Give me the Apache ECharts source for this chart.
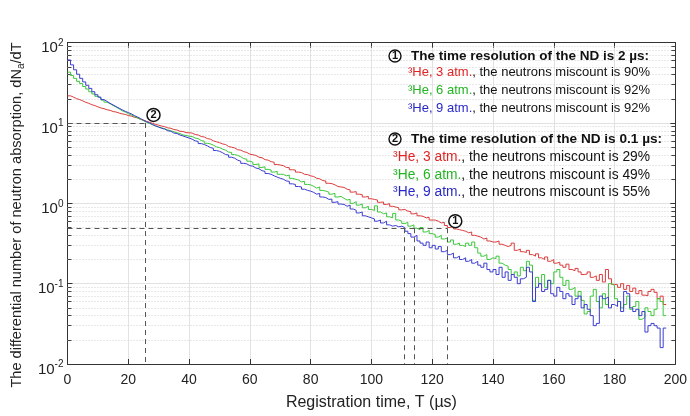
<!DOCTYPE html>
<html><head><meta charset="utf-8">
<script src="https://cdn.jsdelivr.net/npm/echarts@6/dist/echarts.min.js"></script>
<style>html,body{margin:0;padding:0;background:#fff}#c{width:690px;height:416px}</style>
</head><body><div id="c"></div>
<script>
// ---- data (histogram bins, 1 µs wide, starting at 0 µs) ----
const binWidth = 1;
const red3atm = [
21.8,21.0,20.1,19.6,18.9,18.1,17.6,16.9,16.5,15.9,
15.4,15.1,14.6,14.4,13.9,13.7,13.3,13.0,12.8,12.4,
12.2,11.8,11.6,11.1,10.9,10.5,10.2,9.9,9.6,9.4,
9.17,9.0,8.7,8.6,8.3,8.2,7.9,7.85,7.6,7.55,
7.5,7.2,7.1,6.8,6.7,6.4,6.3,6.0,5.85,5.7,
5.5,5.4,5.1,5.0,4.9,4.65,4.6,4.4,4.3,4.1,
4.03,3.95,3.75,3.7,3.5,3.45,3.3,3.25,3.05,3.0,
2.95,2.8,2.78,2.62,2.6,2.45,2.42,2.3,2.28,2.2,
2.16,2.05,2.02,1.92,1.9,1.78,1.76,1.7,1.62,1.6,
1.58,1.5,1.47,1.38,1.4,1.3,1.28,1.2,1.22,1.14,
1.12,1.1,1.03,1.04,0.97,0.99,0.92,0.9,0.88,0.83,
0.84,0.8,0.79,0.74,0.76,0.7,0.69,0.66,0.67,0.62,
0.62,0.6,0.57,0.58,0.53,0.5,0.52,0.48,0.47,0.46,
0.45,0.43,0.44,0.4,0.39,0.38,0.36,0.37,0.34,0.33,
0.33,0.34,0.31,0.3,0.29,0.3,0.32,0.26,0.27,0.25,
0.245,0.26,0.23,0.22,0.235,0.21,0.2,0.215,0.19,0.2,
0.18,0.185,0.17,0.16,0.175,0.15,0.145,0.155,0.14,0.13,
0.132,0.14,0.12,0.125,0.11,0.13,0.105,0.15,0.115,0.098,
0.097,0.09,0.1,0.085,0.095,0.08,0.088,0.075,0.082,0.072,
0.071,0.08,0.085,0.078,0.065,0.07,0.055];
const green6atm = [
43,39,36,33,31,28.5,26.5,24.5,23,21.5,
20.5,19.3,18.2,17.4,16.5,15.8,15.0,14.2,13.7,13.1,
12.6,12.1,11.6,11.2,10.7,10.2,9.9,9.5,9.2,8.9,
8.7,8.5,8.2,8.0,7.8,7.55,7.4,7.1,7.0,6.85,
6.8,6.5,6.4,6.05,5.95,5.6,5.5,5.3,5.05,4.95,
4.73,4.6,4.35,4.3,4.05,3.95,3.8,3.6,3.55,3.35,
3.25,3.05,3.1,2.8,2.85,2.65,2.6,2.45,2.5,2.3,
2.3,2.2,2.25,2.05,2.0,1.95,1.85,1.88,1.72,1.7,
1.63,1.55,1.6,1.45,1.42,1.38,1.3,1.33,1.2,1.22,
1.155,1.1,1.12,1.0,1.05,0.95,0.98,0.88,0.92,0.84,
0.818,0.93,0.78,0.74,0.76,0.68,0.66,0.75,0.62,0.6,
0.56,0.58,0.52,0.54,0.49,0.47,0.5,0.44,0.46,0.42,
0.41,0.38,0.4,0.36,0.37,0.33,0.35,0.31,0.32,0.3,
0.29,0.32,0.3,0.33,0.28,0.24,0.22,0.23,0.2,0.21,
0.205,0.22,0.18,0.17,0.165,0.15,0.13,0.14,0.125,0.16,
0.145,0.19,0.17,0.062,0.12,0.1,0.13,0.09,0.11,0.1,
0.14,0.15,0.12,0.095,0.11,0.085,0.09,0.07,0.08,0.062,
0.042,0.045,0.07,0.085,0.06,0.05,0.075,0.055,0.1,0.095,
0.065,0.06,0.05,0.055,0.07,0.048,0.052,0.06,0.036,0.038,
0.05,0.045,0.04,0.048,0.065,0.06,0.04];
const blue9atm = [
61,53,46,40.5,36,32.5,29.5,27,24.5,22.5,
21,19.6,18.6,17.6,16.8,16.0,15.3,14.6,14.0,13.5,
13.0,12.4,11.9,11.4,10.8,10.4,10.0,9.6,9.2,8.9,
8.6,8.4,8.0,7.9,7.5,7.4,7.1,6.9,6.7,6.5,
6.3,6.0,5.9,5.55,5.4,5.2,4.95,4.85,4.55,4.45,
4.28,4.05,4.0,3.75,3.65,3.45,3.35,3.15,3.1,2.95,
2.9,2.75,2.7,2.55,2.5,2.35,2.3,2.2,2.12,2.05,
2.0,1.9,1.88,1.75,1.72,1.62,1.6,1.5,1.45,1.42,
1.37,1.3,1.33,1.2,1.18,1.12,1.13,1.03,1.05,0.98,
0.97,0.92,0.95,0.85,0.82,0.76,0.78,0.7,0.68,0.66,
0.64,0.6,0.62,0.57,0.6,0.54,0.52,0.53,0.51,0.52,
0.5,0.45,0.42,0.38,0.4,0.34,0.32,0.3,0.33,0.28,
0.3,0.27,0.29,0.25,0.26,0.23,0.24,0.21,0.22,0.2,
0.21,0.19,0.2,0.18,0.19,0.17,0.16,0.18,0.15,0.14,
0.15,0.13,0.16,0.12,0.14,0.11,0.13,0.12,0.1,0.115,
0.12,0.16,0.14,0.06,0.09,0.1,0.08,0.085,0.11,0.075,
0.07,0.09,0.08,0.065,0.075,0.07,0.055,0.065,0.07,0.05,
0.055,0.048,0.04,0.03,0.032,0.07,0.065,0.068,0.05,0.055,
0.052,0.06,0.045,0.08,0.075,0.05,0.045,0.048,0.04,0.045,
0.025,0.03,0.032,0.03,0.028,0.016,0.028];

const seriesNames = ['3He, 3 atm.', '3He, 6 atm.', '3He, 9 atm.'];
const seriesValues = [red3atm, green6atm, blue9atm];
const lineColors = ['#dc3c3c', '#3cc83c', '#3c3cd2'];
const textColors = ['#e02424', '#22b422', '#2828c8'];

const xRange = [0, 200];
const xInterval = 20;
const yRange = [0.01, 100];

// reference (dashed) lines: [x1, y1, x2, y2]
const dashedLines = [
  [0, 10, 25.5, 10], [25.5, 10, 25.5, 0.01],
  [0, 0.49, 125, 0.49], [110.9, 0.49, 110.9, 0.01],
  [114, 0.49, 114, 0.01], [125, 0.49, 125, 0.01]
];
// circled markers: [x, y, label]
const circleMarks = [[28.3, 12.6, '2'], [127.6, 0.6, '1']];

// legend text
const legendBlocks = [
  { num: '1', title: 'The time resolution of the ND is 2 µs:', miscount: ['90%', '92%', '92%'] },
  { num: '2', title: 'The time resolution of the ND is 0.1 µs:', miscount: ['29%', '49%', '55%'] }
];

// ---- build ----
const FONT = '"Liberation Sans", Arial, Helvetica, sans-serif';
function toSteps(vals) {
  const pts = vals.map((v, i) => [i * binWidth, v]);
  pts.push([vals.length * binWidth, vals[vals.length - 1]]);
  return pts;
}

const minorLines = [];
const minorTicks = [];
for (let e = -2; e < 2; e++) {
  for (let m = 2; m <= 9; m++) {
    const v = m * Math.pow(10, e);
    minorLines.push([{ coord: [xRange[0], v] }, { coord: [xRange[1], v] }]);
    minorTicks.push([{ coord: [0, v] }, { coord: [1.3, v] }]);
    minorTicks.push([{ coord: [198.7, v] }, { coord: [200, v] }]);
  }
}

const series = [];
series.push({
  type: 'line', data: [], silent: true, z: 1,
  markLine: {
    silent: true, z: 1, symbol: ['none', 'none'], label: { show: false }, animation: false,
    lineStyle: { color: '#d0d0d0', type: [1, 2], width: 1 },
    emphasis: { disabled: true },
    data: minorLines.concat(minorTicks.map(t => [Object.assign({ lineStyle: { color: '#444', type: 'solid', width: 1 } }, t[0]), t[1]]))
  }
});
seriesValues.forEach((vals, k) => {
  series.push({
    name: seriesNames[k], type: 'line', step: 'end', data: toSteps(vals),
    showSymbol: false, symbol: 'none', silent: true, z: 2 + k,
    lineStyle: { color: lineColors[k], width: 1 }, itemStyle: { color: lineColors[k] }
  });
});
series.push({
  type: 'line', data: [], silent: true, z: 6,
  markLine: {
    silent: true, z: 6, symbol: ['none', 'none'], label: { show: false }, animation: false,
    lineStyle: { color: '#555', type: [5, 4], width: 1 },
    emphasis: { disabled: true },
    data: dashedLines.map(d => [{ coord: [d[0], d[1]] }, { coord: [d[2], d[3]] }])
  },
  markPoint: {
    silent: true, z: 7, animation: false, symbol: 'circle', symbolSize: 13,
    itemStyle: { color: '#fff', borderColor: '#111', borderWidth: 1.5 },
    label: { show: true, position: 'inside', color: '#111', fontWeight: 'bold', fontSize: 11, fontFamily: FONT, formatter: p => p.data.name },
    data: circleMarks.map(c => ({ coord: [c[0], c[1]], name: c[2] }))
  }
});

const axisLineStyle = { color: '#333', width: 1 };
const graphics = [];
const headerY = [56, 139];
const rowY = [[72.5, 90, 108], [157, 175, 192.5]];
const rowSize = [13, 13.8];
const headSize = [13.5, 13.6];
legendBlocks.forEach((b, bi) => {
  graphics.push({
    type: 'text', x: 389, y: headerY[bi], silent: true, z: 100,
    style: {
      text: '{c|' + b.num + '}{sp| }{t|' + b.title + '}',
      textAlign: 'left', textVerticalAlign: 'middle',
      rich: {
        c: { width: 12, height: 12, lineHeight: 12, borderRadius: 7, borderWidth: 1.4, borderColor: '#111', align: 'center', fontSize: 11, fontWeight: 'bold', fontFamily: FONT, fill: '#111' },
        sp: { width: 10, fontSize: 13, fontFamily: FONT },
        t: { fontSize: headSize[bi], fontWeight: 'bold', fontFamily: FONT, fill: '#111' }
      }
    }
  });
  b.miscount.forEach((pct, k) => {
    graphics.push({
      type: 'text', x: 650, y: rowY[bi][k], silent: true, z: 100,
      style: {
        text: '{a|³He, ' + (3 * (k + 1)) + ' atm.}{b|, the neutrons miscount is ' + pct + '}',
        textAlign: 'right', textVerticalAlign: 'middle',
        rich: {
          a: { fontSize: rowSize[bi], fontFamily: FONT, fill: textColors[k] },
          b: { fontSize: rowSize[bi], fontFamily: FONT, fill: '#111' }
        }
      }
    });
  });
});
graphics.push({
  type: 'text', x: 17, y: 215, rotation: Math.PI / 2, silent: true,
  style: {
    text: '{m|The differential number of neutron absorption, dN}{s|a}{m|/dT}',
    textAlign: 'center', textVerticalAlign: 'middle',
    rich: {
      m: { fontSize: 14.6, fontFamily: FONT, fill: '#222', lineHeight: 18 },
      s: { fontSize: 10, fontFamily: FONT, fill: '#222', lineHeight: 10, verticalAlign: 'bottom' }
    }
  }
});

const chart = echarts.init(document.getElementById('c'), null, { renderer: 'canvas' });
chart.setOption({
  animation: false,
  backgroundColor: '#fff',
  grid: { left: 67.5, right: 14, top: 42.7, bottom: 52, containLabel: false },
  xAxis: [{
    type: 'value', min: xRange[0], max: xRange[1], interval: xInterval, position: 'bottom',
    axisLine: { show: true, onZero: false, lineStyle: axisLineStyle },
    axisTick: { show: true, inside: true, length: 5, lineStyle: axisLineStyle },
    axisLabel: { fontSize: 14, color: '#222', margin: 9, fontFamily: FONT },
    splitLine: { show: true, lineStyle: { color: '#e2e2e2', width: 1 } },
    name: 'Registration time, T (µs)', nameLocation: 'middle', nameGap: 31,
    nameTextStyle: { fontSize: 16, color: '#222', fontFamily: FONT }
  }, {
    type: 'value', min: xRange[0], max: xRange[1], interval: xInterval, position: 'top',
    axisLine: { show: true, onZero: false, lineStyle: axisLineStyle },
    axisTick: { show: true, inside: true, length: 5, lineStyle: axisLineStyle },
    axisLabel: { show: false }, splitLine: { show: false }
  }],
  yAxis: [{
    type: 'log', logBase: 10, min: yRange[0], max: yRange[1], splitNumber: 4, position: 'left',
    axisLine: { show: true, onZero: false, lineStyle: axisLineStyle },
    axisTick: { show: true, inside: true, length: 5, lineStyle: axisLineStyle },
    axisLabel: {
      margin: 4, padding: [11, 0, 0, 0],
      formatter: v => '{b|10}{s|' + Math.round(Math.log10(v)) + '}',
      rich: {
        b: { fontSize: 15, lineHeight: 20, color: '#222', fontFamily: FONT },
        s: { fontSize: 10, lineHeight: 10, verticalAlign: 'top', color: '#222', fontFamily: FONT }
      }
    },
    splitLine: { show: true, lineStyle: { color: '#e2e2e2', width: 1 } }
  }, {
    type: 'log', logBase: 10, min: yRange[0], max: yRange[1], splitNumber: 4, position: 'right',
    axisLine: { show: true, onZero: false, lineStyle: axisLineStyle },
    axisTick: { show: true, inside: true, length: 5, lineStyle: axisLineStyle },
    axisLabel: { show: false }, splitLine: { show: false }
  }],
  series: series,
  graphic: graphics
});
</script>
</body></html>
